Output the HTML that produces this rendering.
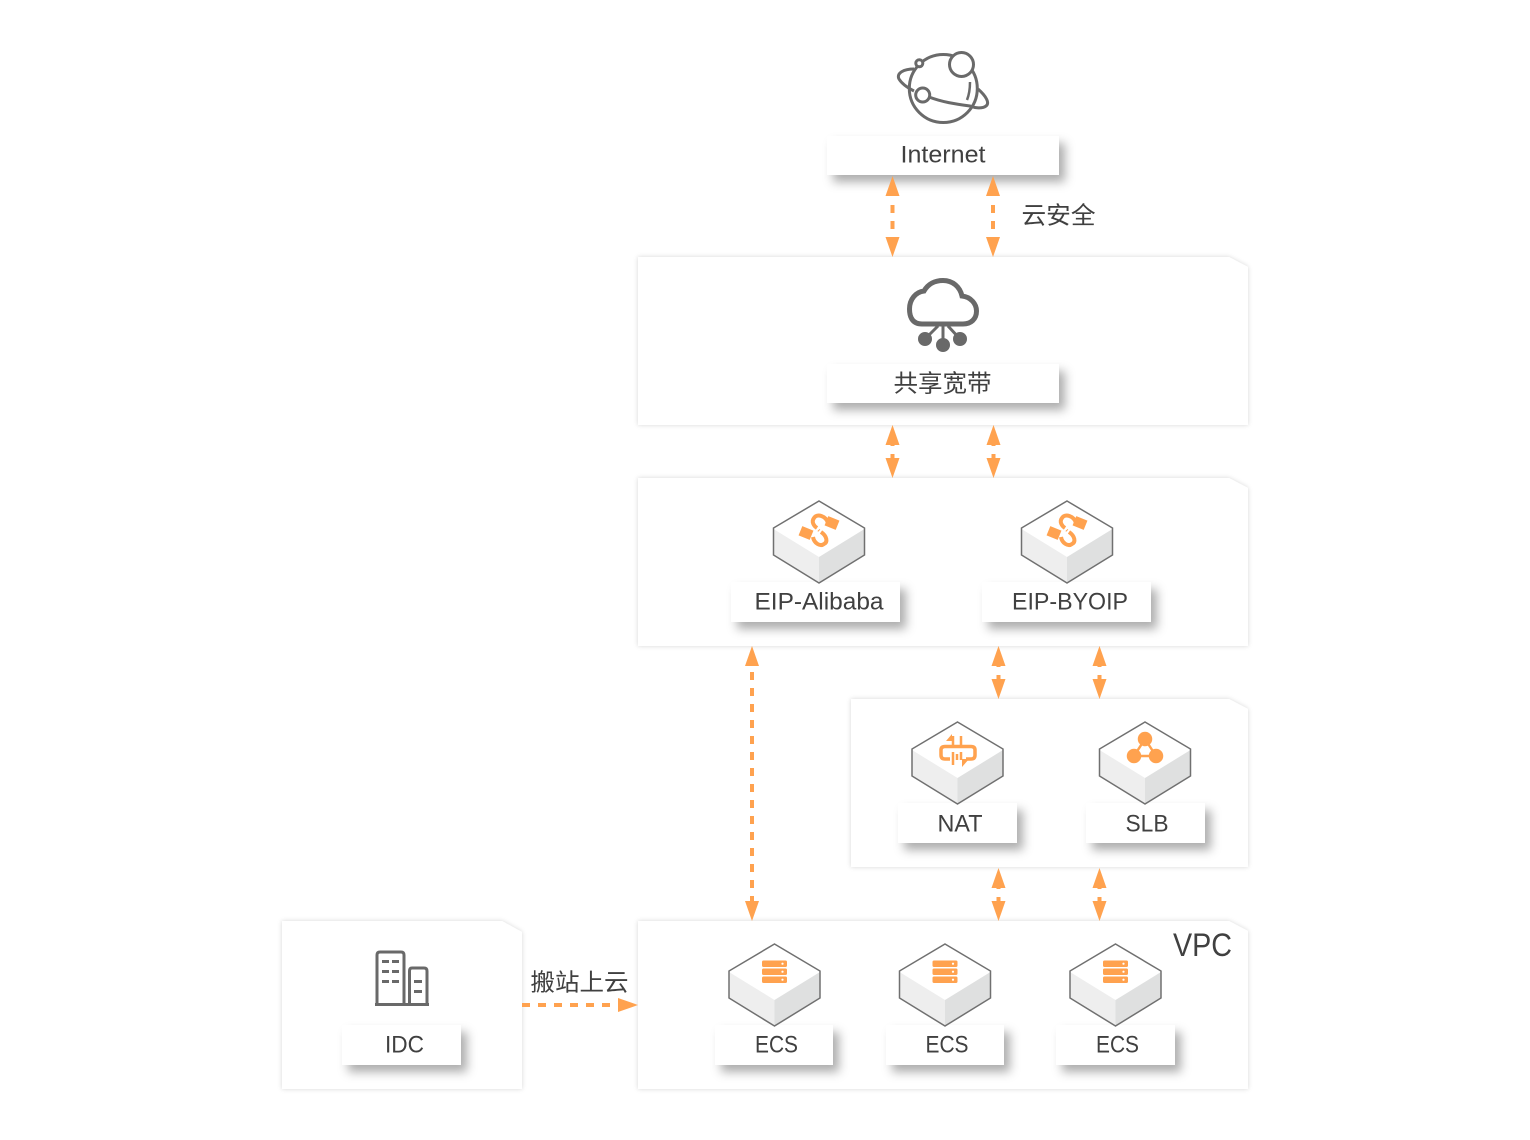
<!DOCTYPE html>
<html><head><meta charset="utf-8"><style>
html,body{margin:0;padding:0;background:#fff}
svg{display:block}
text{font-family:"Liberation Sans","Noto Sans CJK SC",sans-serif;fill:#404040;font-size:24px}
</style></head><body>
<svg width="1530" height="1140" viewBox="0 0 1530 1140" xmlns="http://www.w3.org/2000/svg">
<defs>
<filter id="ps" x="-5%" y="-10%" width="110%" height="120%"><feDropShadow dx="0" dy="0" stdDeviation="2.500" flood-color="#000" flood-opacity=".16"/></filter>
<filter id="ls" x="-20%" y="-50%" width="140%" height="220%"><feDropShadow dx="6" dy="7" stdDeviation="5" flood-color="#000" flood-opacity=".32"/></filter>
<g id="cube">
<path d="M0 0L45.500 27V54L0 82L-45.500 54V27Z" fill="#fff"/>
<path d="M-45.500 28L0 56V82L-45.500 54Z" fill="#eeeeee"/>
<path d="M45.500 28L0 56V82L45.500 54Z" fill="#dfe0e0"/>
<path d="M0 0L45.500 27V54L0 82L-45.500 54V27Z" fill="none" stroke="#707070" stroke-width="1.500"/>
</g>
<g id="eip" fill="none" stroke="#ffa24f" stroke-width="4">
<path d="M11 -7C9 -14 0 -17 -3 -12C-6 -8 -3 -4 0 -2"/>
<path d="M4 2C10 6 11 12 7 14C3 17 -3 13 -4 7"/>
<path d="M1.500 0L2.500 1" stroke-width="3" stroke-dasharray="1 1"/>
<rect x="-17" y="-2" width="12" height="10" transform="rotate(22 -11 3)" fill="#ffa24f" stroke="none"/>
<rect x="9" y="-12" width="12" height="10" transform="rotate(22 15 -7)" fill="#ffa24f" stroke="none"/>
</g>
<g id="srv" fill="#ffa24f">
<rect x="-12.500" y="0" width="25" height="6.500" rx="1.500"/>
<rect x="-12.500" y="8" width="25" height="6.500" rx="1.500"/>
<rect x="-12.500" y="16" width="25" height="6.500" rx="1.500"/>
<circle cx="8" cy="3.200" r="1.100" fill="#fff"/><circle cx="8" cy="11.200" r="1.100" fill="#fff"/><circle cx="8" cy="19.200" r="1.100" fill="#fff"/>
</g>
<g id="dbl" fill="#ffa24f">
<path d="M0 0L7 20H-7Z"/><path d="M0 53L7 33H-7Z"/><rect x="-2" y="20" width="4" height="1"/><rect x="-2" y="29" width="4" height="4"/>
</g>
</defs>

<!-- panels -->
<g fill="#fff" filter="url(#ps)">
<path d="M638 257H1229L1248 267V425H638Z"/>
<path d="M638 478H1229L1248 488V646H638Z"/>
<path d="M851 699H1229L1248 709V867H851Z"/>
<path d="M638 921H1229L1248 931V1089H638Z"/>
<path d="M282 921H502L522 932V1089H282Z"/>
</g>

<!-- globe -->
<g fill="none" stroke="#6a6a6a" stroke-width="3">
<circle cx="943.300" cy="88.500" r="34"/>
<path d="M914 69C904 69 896 73 899 79C902 84 908 88 914 91"/>
<path d="M978 89C986 96 990 103 986 106C982 109 975 108 970 106C955 104 942 102 929 97"/>
<circle cx="961.500" cy="64.500" r="12" fill="#fff"/>
<circle cx="919.300" cy="63.300" r="3.500" fill="#fff"/>
<circle cx="922.700" cy="95" r="7" fill="#fff"/>
<path d="M970 82C970 90 969 95 967 100" stroke-width="2.500"/>
</g>

<!-- cloud -->
<g fill="none" stroke="#696969" stroke-width="5">
<path d="M922 324C911 324 909.500 315 909.500 309C909.500 299 916 292 924 291C928 284 935 280.500 943 280.500C953 280.500 960 287 962 296C971 297 976.500 304 976.500 311C976.500 319 971 324 963 324Z"/>
</g>
<g stroke="#696969" stroke-width="3" fill="#696969">
<path d="M943 325V345M938 326L925 339M948 326L960 339" fill="none"/>
<circle cx="925" cy="339" r="5.500"/><circle cx="943" cy="345" r="5.500"/><circle cx="960" cy="339" r="5.500"/>
</g>

<!-- building -->
<g fill="none" stroke="#696969" stroke-width="3">
<path d="M377 1004V955Q377 952 380 952H401Q404 952 404 955V1004"/>
<path d="M409.500 1004V971Q409.500 968 412 968H424Q427 968 427 971V1004"/>
<path d="M375 1004.500H429"/>
</g>
<g fill="#696969">
<rect x="382" y="960" width="7" height="3"/><rect x="392" y="960" width="7" height="3"/>
<rect x="382" y="970" width="7" height="3"/><rect x="392" y="970" width="7" height="3"/>
<rect x="382" y="980" width="7" height="3"/><rect x="392" y="980" width="7" height="3"/>
<rect x="414" y="980" width="8" height="3"/><rect x="414" y="990" width="8" height="3"/>
</g>

<!-- label boxes -->
<g fill="#fff" filter="url(#ls)"><rect x="827" y="136" width="232" height="39"/></g>
<g fill="#fff" filter="url(#ls)"><rect x="827" y="364" width="232" height="39"/></g>
<g fill="#fff" filter="url(#ls)"><rect x="731" y="582" width="169" height="40"/></g>
<g fill="#fff" filter="url(#ls)"><rect x="982" y="582" width="169" height="40"/></g>
<g fill="#fff" filter="url(#ls)"><rect x="898" y="803" width="119" height="40"/></g>
<g fill="#fff" filter="url(#ls)"><rect x="1086" y="803" width="119" height="40"/></g>
<g fill="#fff" filter="url(#ls)"><rect x="342" y="1025" width="119" height="40"/></g>
<g fill="#fff" filter="url(#ls)"><rect x="715" y="1025" width="118" height="40"/></g>
<g fill="#fff" filter="url(#ls)"><rect x="886" y="1025" width="118" height="40"/></g>
<g fill="#fff" filter="url(#ls)"><rect x="1056" y="1025" width="119" height="40"/></g>

<!-- cubes -->
<use href="#cube" x="819" y="501"/>
<use href="#eip" x="817" y="530"/>
<use href="#cube" x="1067" y="501"/>
<use href="#eip" x="1065" y="530"/>
<use href="#cube" x="957.500" y="722"/>
<g fill="none" stroke="#ffa24f" stroke-width="3.500">
<path d="M971 746.500H945Q941 746.500 941 750V755Q941 759 945 759H950"/>
<path d="M971 746.500Q975 746.500 975 750V755Q975 759 971 759H966"/>
<path d="M953 736V746M961 736V746M953 752V765M961 752V760M957 754V760" stroke-width="2.500"/>
</g>
<path d="M946 741L952 734V741ZM962 767V759H969Z" fill="#ffa24f"/>
<use href="#cube" x="1145" y="722"/>
<g stroke="#ffa24f" stroke-width="2.500" fill="#ffa24f">
<path d="M1145 739L1134 756H1156Z" fill="none"/>
<circle cx="1145" cy="739" r="6"/><circle cx="1134" cy="756" r="6"/><circle cx="1156" cy="756" r="6"/>
</g>
<use href="#cube" x="774.500" y="944"/><use href="#srv" x="774.500" y="960.500"/>
<use href="#cube" x="945" y="944"/><use href="#srv" x="945" y="960.500"/>
<use href="#cube" x="1115.500" y="944"/><use href="#srv" x="1115.500" y="960.500"/>

<!-- arrows -->
<g fill="#ffa24f">
<path d="M892.500 176L899.500 196H885.500ZM892.500 257L899.500 237H885.500Z"/>
<rect x="890.500" y="205" width="4" height="8"/><rect x="890.500" y="221" width="4" height="8"/>
<path d="M993 176L1000 196H986ZM993 257L1000 237H986Z"/>
<rect x="991" y="205" width="4" height="8"/><rect x="991" y="221" width="4" height="8"/>
<path d="M752 646L759 666H745ZM752 921L759 901H745Z"/>
<path d="M638 1005L618 998V1012Z"/>
<rect x="522" y="1003" width="8" height="4"/><rect x="538" y="1003" width="8" height="4"/><rect x="554" y="1003" width="8" height="4"/><rect x="570" y="1003" width="8" height="4"/><rect x="586" y="1003" width="8" height="4"/><rect x="602" y="1003" width="8" height="4"/>
</g>
<line x1="752" y1="672" x2="752" y2="901" stroke="#ffa24f" stroke-width="4" stroke-dasharray="8 8"/>
<use href="#dbl" x="892.500" y="425"/>
<use href="#dbl" x="993.500" y="425"/>
<use href="#dbl" x="998.500" y="646"/>
<use href="#dbl" x="1099.500" y="646"/>
<use href="#dbl" x="998.500" y="868"/>
<use href="#dbl" x="1099.500" y="868"/>

<!-- text -->
<text x="900.500" y="162.500" textLength="85" lengthAdjust="spacingAndGlyphs">Internet</text>
<text x="1021.500" y="223.500" textLength="74" lengthAdjust="spacingAndGlyphs">云安全</text>
<text x="893.500" y="391.500" textLength="98" lengthAdjust="spacingAndGlyphs">共享宽带</text>
<text x="754.500" y="609.500" textLength="129" lengthAdjust="spacingAndGlyphs">EIP-Alibaba</text>
<text x="1012" y="609.500" textLength="116" lengthAdjust="spacingAndGlyphs">EIP-BYOIP</text>
<text x="937.500" y="831.500" textLength="45" lengthAdjust="spacingAndGlyphs">NAT</text>
<text x="1125.500" y="831.500" textLength="43" lengthAdjust="spacingAndGlyphs">SLB</text>
<text x="385" y="1052.500" textLength="39" lengthAdjust="spacingAndGlyphs">IDC</text>
<text x="755" y="1052.500" textLength="43" lengthAdjust="spacingAndGlyphs">ECS</text>
<text x="925.500" y="1052.500" textLength="43" lengthAdjust="spacingAndGlyphs">ECS</text>
<text x="1096" y="1052.500" textLength="43" lengthAdjust="spacingAndGlyphs">ECS</text>
<text x="1173" y="956" style="font-size:32px" textLength="59" lengthAdjust="spacingAndGlyphs">VPC</text>
<text x="530.500" y="990.500" textLength="98" lengthAdjust="spacingAndGlyphs">搬站上云</text>
</svg>
</body></html>
